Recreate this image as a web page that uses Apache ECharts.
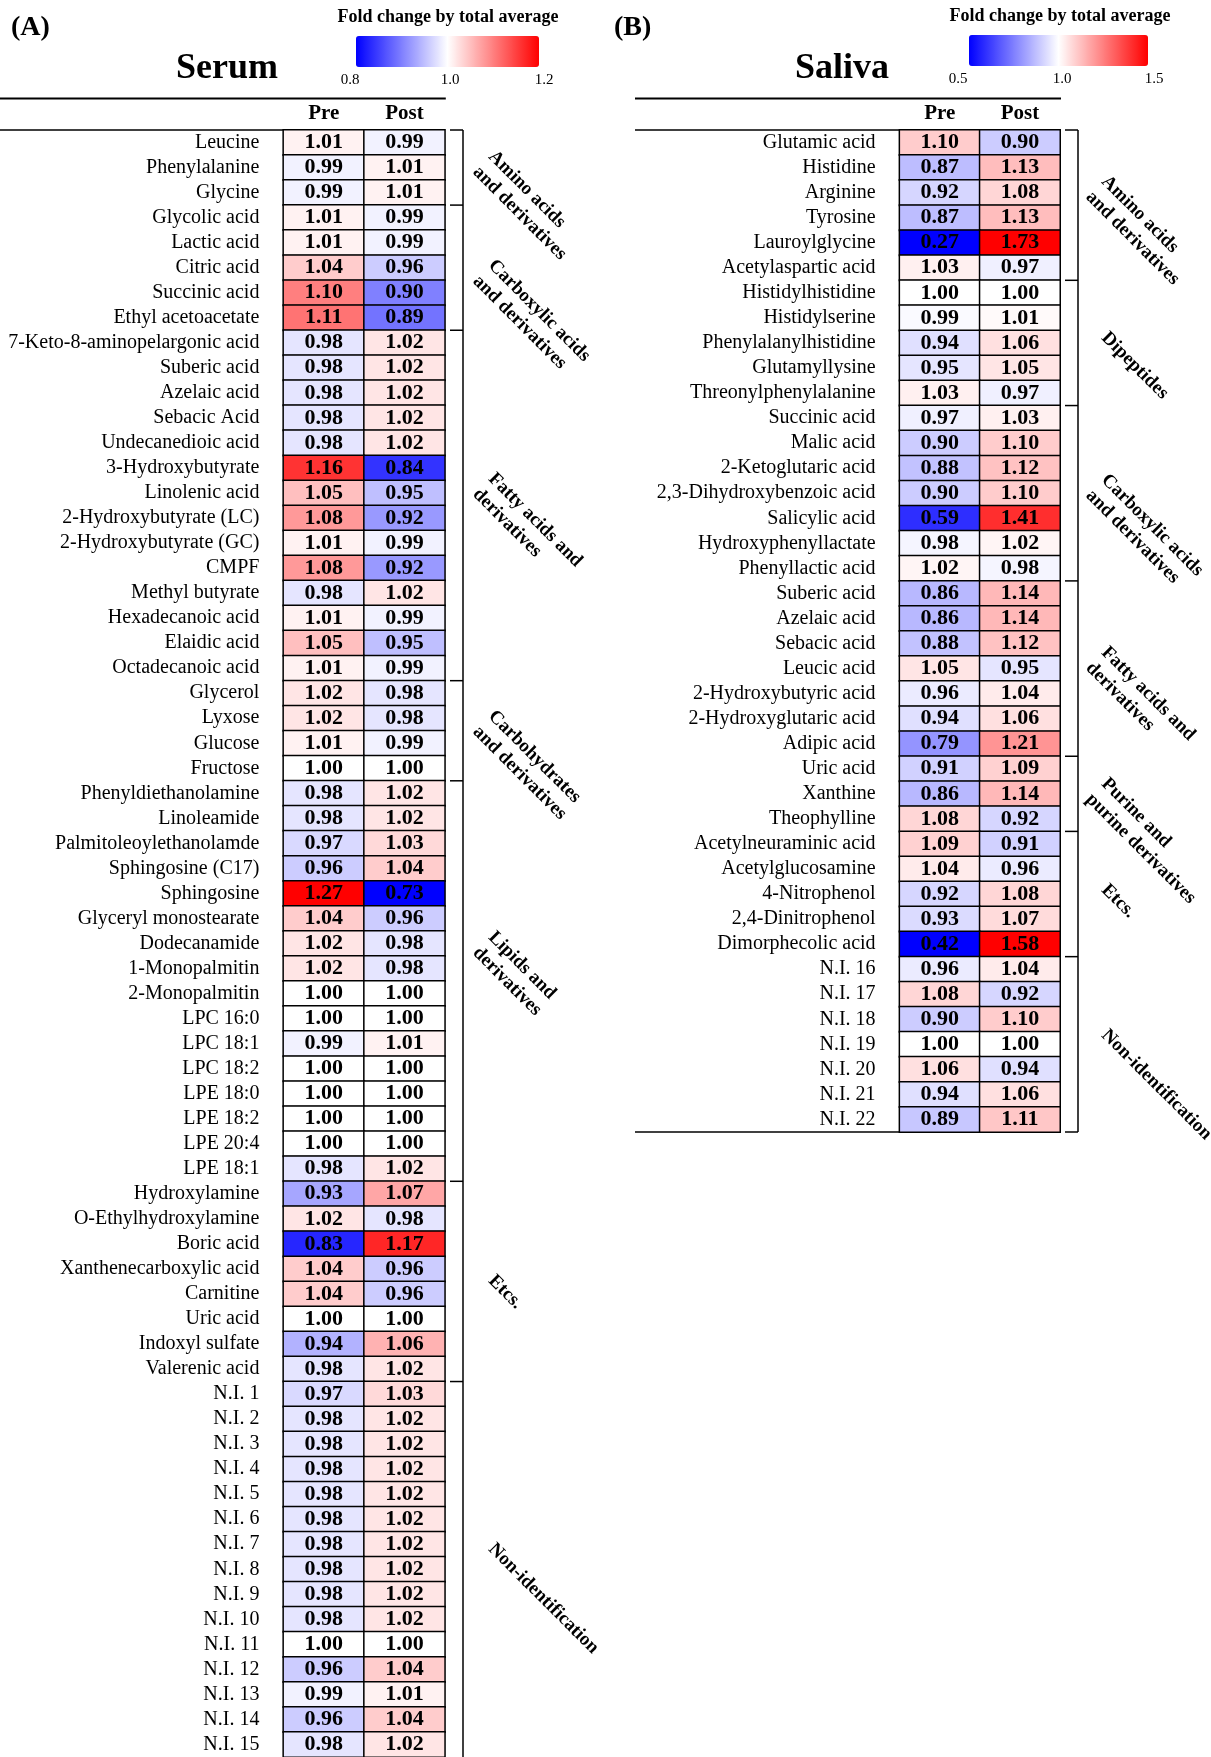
<!DOCTYPE html>
<html>
<head>
<meta charset="utf-8">
<script src="https://cdn.jsdelivr.net/npm/echarts@6/dist/echarts.min.js"></script>
<style>
  html, body { margin: 0; padding: 0; background: #fff; }
  #main { width: 1211px; height: 1757px; }
</style>
</head>
<body>
<div id="main"></div>
<script>
// ---- data ----
var columns = ['Pre', 'Post'];

var serumNames = ['Leucine', 'Phenylalanine', 'Glycine', 'Glycolic acid', 'Lactic acid', 'Citric acid',
  'Succinic acid', 'Ethyl acetoacetate', '7-Keto-8-aminopelargonic acid', 'Suberic acid', 'Azelaic acid',
  'Sebacic Acid', 'Undecanedioic acid', '3-Hydroxybutyrate', 'Linolenic acid', '2-Hydroxybutyrate (LC)',
  '2-Hydroxybutyrate (GC)', 'CMPF', 'Methyl butyrate', 'Hexadecanoic acid', 'Elaidic acid',
  'Octadecanoic acid', 'Glycerol', 'Lyxose', 'Glucose', 'Fructose', 'Phenyldiethanolamine', 'Linoleamide',
  'Palmitoleoylethanolamde', 'Sphingosine (C17)', 'Sphingosine', 'Glyceryl monostearate', 'Dodecanamide',
  '1-Monopalmitin', '2-Monopalmitin', 'LPC 16:0', 'LPC 18:1', 'LPC 18:2', 'LPE 18:0', 'LPE 18:2',
  'LPE 20:4', 'LPE 18:1', 'Hydroxylamine', 'O-Ethylhydroxylamine', 'Boric acid', 'Xanthenecarboxylic acid',
  'Carnitine', 'Uric acid', 'Indoxyl sulfate', 'Valerenic acid', 'N.I. 1', 'N.I. 2', 'N.I. 3', 'N.I. 4',
  'N.I. 5', 'N.I. 6', 'N.I. 7', 'N.I. 8', 'N.I. 9', 'N.I. 10', 'N.I. 11', 'N.I. 12', 'N.I. 13', 'N.I. 14',
  'N.I. 15'];
var serumPre = [1.01, 0.99, 0.99, 1.01, 1.01, 1.04, 1.10, 1.11, 0.98, 0.98, 0.98, 0.98, 0.98, 1.16, 1.05,
  1.08, 1.01, 1.08, 0.98, 1.01, 1.05, 1.01, 1.02, 1.02, 1.01, 1.00, 0.98, 0.98, 0.97, 0.96, 1.27, 1.04,
  1.02, 1.02, 1.00, 1.00, 0.99, 1.00, 1.00, 1.00, 1.00, 0.98, 0.93, 1.02, 0.83, 1.04, 1.04, 1.00, 0.94,
  0.98, 0.97, 0.98, 0.98, 0.98, 0.98, 0.98, 0.98, 0.98, 0.98, 0.98, 1.00, 0.96, 0.99, 0.96, 0.98];
var serumPost = [0.99, 1.01, 1.01, 0.99, 0.99, 0.96, 0.90, 0.89, 1.02, 1.02, 1.02, 1.02, 1.02, 0.84, 0.95,
  0.92, 0.99, 0.92, 1.02, 0.99, 0.95, 0.99, 0.98, 0.98, 0.99, 1.00, 1.02, 1.02, 1.03, 1.04, 0.73, 0.96,
  0.98, 0.98, 1.00, 1.00, 1.01, 1.00, 1.00, 1.00, 1.00, 1.02, 1.07, 0.98, 1.17, 0.96, 0.96, 1.00, 1.06,
  1.02, 1.03, 1.02, 1.02, 1.02, 1.02, 1.02, 1.02, 1.02, 1.02, 1.02, 1.00, 1.04, 1.01, 1.04, 1.02];

var salivaNames = ['Glutamic acid', 'Histidine', 'Arginine', 'Tyrosine', 'Lauroylglycine',
  'Acetylaspartic acid', 'Histidylhistidine', 'Histidylserine', 'Phenylalanylhistidine', 'Glutamyllysine',
  'Threonylphenylalanine', 'Succinic acid', 'Malic acid', '2-Ketoglutaric acid', '2,3-Dihydroxybenzoic acid',
  'Salicylic acid', 'Hydroxyphenyllactate', 'Phenyllactic acid', 'Suberic acid', 'Azelaic acid',
  'Sebacic acid', 'Leucic acid', '2-Hydroxybutyric acid', '2-Hydroxyglutaric acid', 'Adipic acid',
  'Uric acid', 'Xanthine', 'Theophylline', 'Acetylneuraminic acid', 'Acetylglucosamine', '4-Nitrophenol',
  '2,4-Dinitrophenol', 'Dimorphecolic acid', 'N.I. 16', 'N.I. 17', 'N.I. 18', 'N.I. 19', 'N.I. 20',
  'N.I. 21', 'N.I. 22'];
var salivaPre = [1.10, 0.87, 0.92, 0.87, 0.27, 1.03, 1.00, 0.99, 0.94, 0.95, 1.03, 0.97, 0.90, 0.88, 0.90,
  0.59, 0.98, 1.02, 0.86, 0.86, 0.88, 1.05, 0.96, 0.94, 0.79, 0.91, 0.86, 1.08, 1.09, 1.04, 0.92, 0.93,
  0.42, 0.96, 1.08, 0.90, 1.00, 1.06, 0.94, 0.89];
var salivaPost = [0.90, 1.13, 1.08, 1.13, 1.73, 0.97, 1.00, 1.01, 1.06, 1.05, 0.97, 1.03, 1.10, 1.12, 1.10,
  1.41, 1.02, 0.98, 1.14, 1.14, 1.12, 0.95, 1.04, 1.06, 1.21, 1.09, 1.14, 0.92, 0.91, 0.96, 1.08, 1.07,
  1.58, 1.04, 0.92, 1.10, 1.00, 0.94, 1.06, 1.11];

// groups: [label, first row, last row]
var serumGroups = [
  ['Amino acids\nand derivatives', 0, 2],
  ['Carboxylic acids\nand derivatives', 3, 7],
  ['Fatty acids and\nderivatives', 8, 21],
  ['Carbohydrates\nand derivatives', 22, 25],
  ['Lipids and\nderivatives', 26, 41],
  ['Etcs.', 42, 49],
  ['Non-identification', 50, 64]
];
var salivaGroups = [
  ['Amino acids\nand derivatives', 0, 5],
  ['Dipeptides', 6, 10],
  ['Carboxylic acids\nand derivatives', 11, 17],
  ['Fatty acids and\nderivatives', 18, 24],
  ['Purine and\npurine derivatives', 25, 27],
  ['Etcs.', 28, 32],
  ['Non-identification', 33, 39]
];

var serumTicks = ['0.8', '1.0', '1.2'];
var salivaTicks = ['0.5', '1.0', '1.5'];

// ---- layout ----
var FONT = '"Liberation Serif", "Times New Roman", serif';
var rowH = 25.05;
var gridTop = 130;
// label offset from group top (px), per group
var serumLabelDy = [16, 50, 138, 25, 146, 89, 157];
var salivaLabelDy = [41, 47, 64, 61, 17, 48, 68];

function cells(pre, post) {
  var out = [];
  for (var i = 0; i < pre.length; i++) {
    out.push([0, i, pre[i]]);
    out.push([1, i, post[i]]);
  }
  return out;
}

function xAxisOf(idx) {
  return {
    type: 'category', gridIndex: idx, position: 'top', data: columns,
    axisLine: { show: false }, axisTick: { show: false }, splitLine: { show: false },
    axisLabel: { color: '#000', fontFamily: FONT, fontWeight: 'bold', fontSize: 21, margin: 6 }
  };
}
function yAxisOf(idx, names) {
  return {
    type: 'category', gridIndex: idx, inverse: true, data: names,
    axisLine: { show: false }, axisTick: { show: false }, splitLine: { show: false },
    axisLabel: { color: '#000', fontFamily: FONT, fontSize: 20, margin: 24, interval: 0 }
  };
}
function heat(idx, pre, post) {
  return {
    type: 'heatmap', xAxisIndex: idx, yAxisIndex: idx,
    data: cells(pre, post),
    label: {
      show: true, color: '#000', fontFamily: FONT, fontWeight: 'bold', fontSize: 22,
      formatter: function (p) { return p.value[2].toFixed(2); }
    },
    itemStyle: { borderColor: '#000', borderWidth: 1.5 },
    emphasis: { disabled: true }
  };
}

var chart = echarts.init(document.getElementById('main'), null, { renderer: 'canvas' });
chart.setOption({
  animation: false,
  backgroundColor: '#fff',
  grid: [
    { left: 283.4, top: gridTop, width: 161.4, height: rowH * serumNames.length },
    { left: 899.6, top: gridTop, width: 160.4, height: rowH * salivaNames.length }
  ],
  xAxis: [xAxisOf(0), xAxisOf(1)],
  yAxis: [yAxisOf(0, serumNames), yAxisOf(1, salivaNames)],
  visualMap: [
    {
      type: 'continuous', seriesIndex: 0, min: 0.8, max: 1.2, calculable: false,
      orient: 'horizontal', left: 356, top: 36, itemWidth: 31, itemHeight: 183, padding: 0,
      text: null, hoverLink: false,
      inRange: { color: ['#0000ff', '#ffffff', '#ff0000'] }
    },
    {
      type: 'continuous', seriesIndex: 1, min: 0.5, max: 1.5, calculable: false,
      orient: 'horizontal', left: 969, top: 35, itemWidth: 31, itemHeight: 179, padding: 0,
      text: null, hoverLink: false,
      inRange: { color: ['#0000ff', '#ffffff', '#ff0000'] }
    }
  ],
  series: [heat(0, serumPre, serumPost), heat(1, salivaPre, salivaPost)]
});

// ---- annotations: titles, rules, brackets, group labels ----
function txt(x, y, s, font, align, vAlign) {
  return { type: 'text', x: x, y: y, silent: true,
    style: { text: s, font: font, fill: '#000', align: align || 'left', verticalAlign: vAlign || 'middle' } };
}
function line(x1, y1, x2, y2, w) {
  return { type: 'line', silent: true, shape: { x1: x1, y1: y1, x2: x2, y2: y2 },
    style: { stroke: '#000', lineWidth: w || 1.5 } };
}

var g = [];
g.push(txt(11, 28, '(A)', 'bold 28px ' + FONT));
g.push(txt(614, 28, '(B)', 'bold 28px ' + FONT));
g.push(txt(227, 69, 'Serum', 'bold 36px ' + FONT, 'center'));
g.push(txt(842, 69, 'Saliva', 'bold 36px ' + FONT, 'center'));
g.push(txt(448, 17, 'Fold change by total average', 'bold 18px ' + FONT, 'center'));
g.push(txt(1060, 16, 'Fold change by total average', 'bold 18px ' + FONT, 'center'));

var serumTickX = [350, 450, 544];
var salivaTickX = [958, 1062, 1154];
serumTicks.forEach(function (t, i) { g.push(txt(serumTickX[i], 80, t, '15px ' + FONT, 'center')); });
salivaTicks.forEach(function (t, i) { g.push(txt(salivaTickX[i], 79, t, '15px ' + FONT, 'center')); });

function panel(axisIdx, names, groups, dys, ruleLeft, bracketX, labelDx, closeBottom) {
  var y0 = chart.convertToPixel({ yAxisIndex: axisIdx }, names[0]);
  var y1 = chart.convertToPixel({ yAxisIndex: axisIdx }, names[1]);
  var h = y1 - y0;
  var top = y0 - h / 2;
  var bottom = top + h * names.length;
  var xPre = chart.convertToPixel({ xAxisIndex: axisIdx }, columns[0]);
  var xPost = chart.convertToPixel({ xAxisIndex: axisIdx }, columns[1]);
  var right = xPost + (xPost - xPre) / 2;
  g.push(line(ruleLeft, 98.6, right + 1, 98.6, 2));
  g.push(line(ruleLeft, top, right, top, 1.5));
  if (closeBottom) g.push(line(ruleLeft, bottom, right, bottom, 1.5));
  g.push(line(bracketX, top, bracketX, Math.min(bottom, 1757), 1.5));
  groups.forEach(function (gr, k) {
    var gTop = top + gr[1] * h;
    g.push(line(bracketX - 13, gTop, bracketX, gTop, 1.5));
    g.push({
      type: 'text', silent: true, x: bracketX + labelDx, y: gTop + dys[k], rotation: -Math.PI / 4,
      style: { text: gr[0], font: 'bold 19px ' + FONT, fill: '#000', align: 'left', verticalAlign: 'top', lineHeight: 22 }
    });
  });
  if (closeBottom) g.push(line(bracketX - 13, bottom, bracketX, bottom, 1.5));
}
panel(0, serumNames, serumGroups, serumLabelDy, 0, 463, 36, false);
panel(1, salivaNames, salivaGroups, salivaLabelDy, 635, 1078, 34, true);

chart.setOption({ graphic: g });
</script>
</body>
</html>
